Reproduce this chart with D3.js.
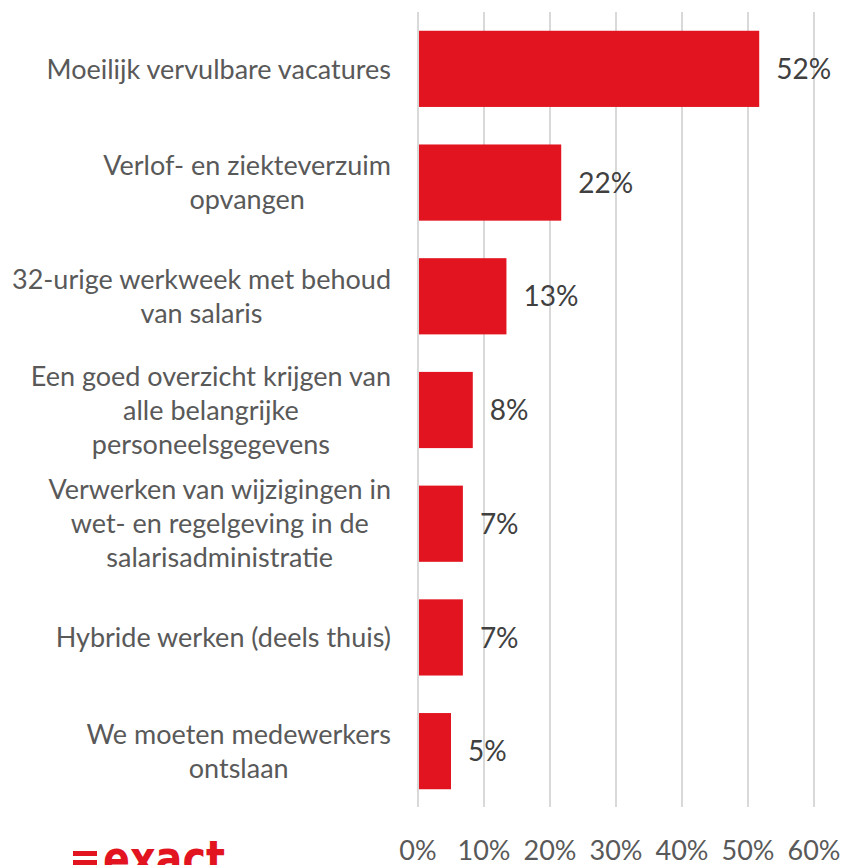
<!DOCTYPE html>
<html>
<head>
<meta charset="utf-8">
<script src="https://cdn.jsdelivr.net/npm/d3@7"></script>
<style>
  html, body { margin: 0; padding: 0; background: #fff; }
  svg text { font-family: Lato, "Open Sans", sans-serif; }
</style>
</head>
<body>
<svg id="chart" width="845" height="865"></svg>
<script>
// --- Data ---
const categories = [
    ["Moeilijk vervulbare vacatures"],
    ["Verlof- en ziekteverzuim", "opvangen"],
    ["32-urige werkweek met behoud", "van salaris"],
    ["Een goed overzicht krijgen van", "alle belangrijke", "personeelsgegevens"],
    ["Verwerken van wijzigingen in", "wet- en regelgeving in de", "salarisadministratie"],
    ["Hybride werken (deels thuis)"],
    ["We moeten medewerkers", "ontslaan"]
];
const values = [51.7, 21.7, 13.4, 8.3, 6.8, 6.8, 5.0];
const xTicks = [0, 10, 20, 30, 40, 50, 60];

// --- Layout ---
const plot = { left: 418, right: 814, top: 12, bottom: 808 };
const fontSize = 27;
const lineHeight = 34;
const textColor = "#595959";
const barColor = "#E1141F";

const svg = d3.select("#chart");

const x = d3.scaleLinear().domain([0, 60]).range([plot.left, plot.right]);
const y = d3.scaleBand()
    .domain(d3.range(categories.length))
    .range([plot.top, plot.bottom])
    .paddingInner(0.33)
    .paddingOuter(0.165);

// gridlines
svg.append("g")
    .selectAll("line")
    .data(xTicks)
    .join("line")
    .attr("x1", d => x(d)).attr("x2", d => x(d))
    .attr("y1", plot.top).attr("y2", plot.bottom - 1)
    .attr("stroke", "#D9D9D9")
    .attr("stroke-width", 2);

// x tick labels
svg.append("g")
    .selectAll("text")
    .data(xTicks)
    .join("text")
    .attr("x", d => x(d))
    .attr("y", 860)
    .attr("text-anchor", "middle")
    .attr("font-size", 27)
    .attr("fill", textColor)
    .text(d => d + "%");

// bars
svg.append("g")
    .selectAll("rect")
    .data(values)
    .join("rect")
    .attr("x", x(0) + 1)
    .attr("y", (d, i) => y(i))
    .attr("width", d => x(d) - x(0) - 1)
    .attr("height", y.bandwidth())
    .attr("fill", barColor);

// value labels
svg.append("g")
    .selectAll("text")
    .data(values)
    .join("text")
    .attr("x", d => x(d) + 17)
    .attr("y", (d, i) => y(i) + y.bandwidth() / 2)
    .attr("dy", "0.36em")
    .attr("font-size", 28)
    .attr("fill", "#404040")
    .text(d => Math.round(d) + "%");

// category labels: lines centered with each other, block right-aligned to the axis
const labelRight = 391;
categories.forEach((lines, i) => {
    const g = svg.append("g");
    const cy = y(i) + y.bandwidth() / 2;
    const texts = lines.map((ln, k) => g.append("text")
        .attr("y", cy + (k - (lines.length - 1) / 2) * lineHeight)
        .attr("dy", "0.36em")
        .attr("text-anchor", "middle")
        .attr("font-size", fontSize)
        .attr("fill", textColor)
        .text(ln));
    const maxW = d3.max(texts, t => t.node().getComputedTextLength());
    texts.forEach(t => t.attr("x", labelRight - maxW / 2));
});

// logo (cut off at the bottom edge, as in the original)
const logo = svg.append("g").attr("fill", "#E1141F");
logo.append("rect").attr("x", 73).attr("y", 851).attr("width", 24).attr("height", 5);
logo.append("rect").attr("x", 73).attr("y", 860).attr("width", 24).attr("height", 5);
logo.append("text")
    .attr("x", 103).attr("y", 876)
    .attr("font-size", 50)
    .attr("font-weight", 900)
    .attr("textLength", 122)
    .attr("lengthAdjust", "spacingAndGlyphs")
    .style("font-family", "'DejaVu Sans', sans-serif")
    .text("exact");
</script>
</body>
</html>
